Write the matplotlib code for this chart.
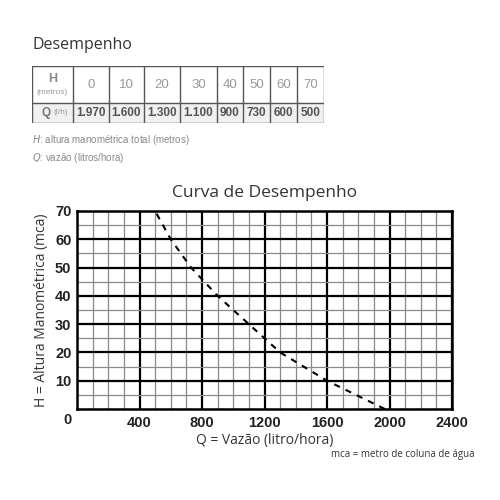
import numpy as np
import matplotlib
matplotlib.use("Agg")
from matplotlib import pyplot as plt

# data (from the table)
h_metros = [0, 10, 20, 30, 40, 50, 60, 70]
q_lh = [1970, 1600, 1300, 1100, 900, 730, 600, 500]
x_ticks = [400, 800, 1200, 1600, 2000, 2400]
y_ticks = [10, 20, 30, 40, 50, 60, 70]

q_labels = [f"{q:,}".replace(",", ".") for q in q_lh]

fig = plt.figure(figsize=(5, 5), dpi=100)
fig.patch.set_facecolor("white")

# --- title + table ---
fig.text(0.064, 0.91, "Desempenho", fontsize=11.5, family="Open Sans",
         color="#333333", va="center", ha="left")

col_w = [41, 36, 35, 36, 37, 26, 27, 27, 27]
row_h = [37, 20]
tax = fig.add_axes([0.064, 1 - 123 / 500, 292 / 500, 57 / 500])
tax.set_xlim(0, sum(col_w))
tax.set_ylim(sum(row_h), 0)
tax.axis("off")
edges = np.concatenate([[0], np.cumsum(col_w)])
tax.axhspan(row_h[0], sum(row_h), color="#f0f0f0", zorder=0)
for e in edges:
    tax.plot([e, e], [0, sum(row_h)], color="#555555", lw=1.0, zorder=2)
for y in [0, row_h[0], sum(row_h)]:
    tax.plot([0, sum(col_w)], [y, y], color="#555555", lw=1.0, zorder=2)
centers = (edges[:-1] + edges[1:]) / 2
tax.text(centers[0], 13, "H", fontsize=9, fontweight="bold", color="#888888",
         ha="center", va="center", family="Liberation Sans")
tax.text(centers[0], 27, "(metros)", fontsize=6, color="#999999",
         ha="center", va="center", family="Liberation Sans")
tax.text(centers[0] - 2, row_h[0] + 10, "Q", fontsize=8.5, fontweight="bold",
         color="#777777", ha="right", va="center", family="Liberation Sans")
tax.text(centers[0] + 1, row_h[0] + 10, "(l/h)", fontsize=6, color="#999999",
         ha="left", va="center", family="Liberation Sans")
for c, h, ql in zip(centers[1:], h_metros, q_labels):
    tax.text(c, row_h[0] / 2, str(h), fontsize=9.5, color="#999999",
             ha="center", va="center", family="Liberation Sans")
    tax.text(c, row_h[0] + 10, ql, fontsize=8.5, fontweight="bold", color="#555555",
             ha="center", va="center", family="Liberation Sans")

fig.text(0.064, 1 - 140 / 500, r"$\it{H}$: altura manométrica total (metros)",
         fontsize=7, color="#888888", va="center", family="Liberation Sans")
fig.text(0.064, 1 - 158 / 500, r"$\it{Q}$: vazão (litros/hora)",
         fontsize=7, color="#888888", va="center", family="Liberation Sans")

# --- chart ---
ax = fig.add_axes([0.154, 0.182, 0.75, 0.396])
ax.set_xlim(0, 2400)
ax.set_ylim(0, 70)
ax.set_xticks(x_ticks)
ax.set_yticks(y_ticks)
ax.set_xticks(np.arange(0, 2401, 100), minor=True)
ax.set_yticks(np.arange(0, 71, 5), minor=True)
ax.grid(which="minor", color="#8a8a8a", lw=0.9)
ax.grid(which="major", color="black", lw=1.6)
ax.set_axisbelow(True)
for s in ax.spines.values():
    s.set_linewidth(1.8)
ax.tick_params(which="both", length=0)
ax.tick_params(axis="x", pad=5)
ax.tick_params(axis="y", pad=4)
for lab in ax.get_xticklabels() + ax.get_yticklabels():
    lab.set_fontweight("bold")
    lab.set_fontsize(10.5)
    lab.set_family("Liberation Sans")
    lab.set_color("#222222")
ax.annotate("0", xy=(0, 0), xytext=(-7, -8), textcoords="offset points",
            ha="center", va="center", fontsize=10.5, fontweight="bold",
            family="Liberation Sans", color="#222222")

ax.plot(q_lh, h_metros, color="black", lw=1.5, ls=(0, (3, 3)), zorder=3)

ax.set_title("Curva de Desempenho", fontsize=12.5, family="Open Sans",
             color="#333333", pad=10)
ax.set_xlabel("Q = Vazão (litro/hora)", fontsize=10, family="Open Sans",
              color="#333333", labelpad=2)
ax.set_ylabel("H = Altura Manométrica (mca)", fontsize=10, family="Open Sans",
              color="#333333", labelpad=4)
fig.text(0.95, 1 - 455 / 500, "mca = metro de coluna de água", fontsize=7,
         family="Open Sans", color="#333333", ha="right", va="center")

fig.savefig("out.png", dpi=100, facecolor="white")
